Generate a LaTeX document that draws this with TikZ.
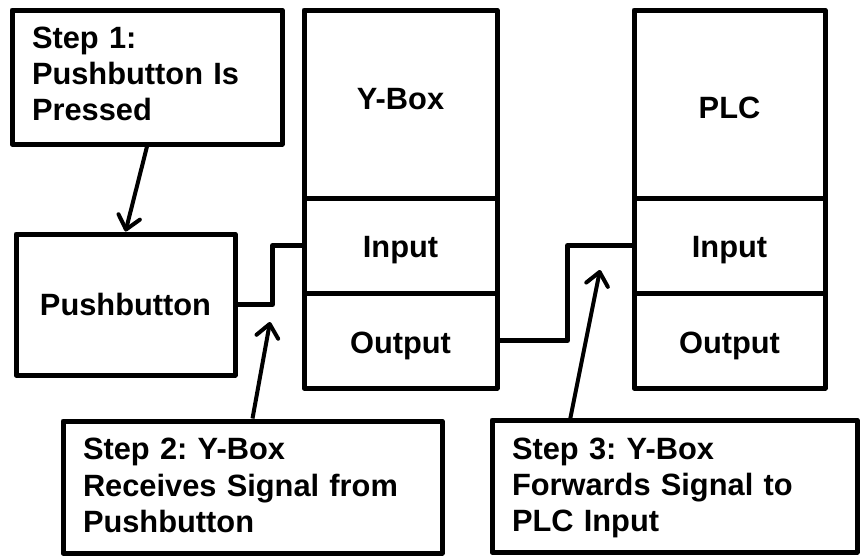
\documentclass[tikz,border=0pt]{standalone}
\usepackage{fontspec}
\setmainfont{Liberation Sans}
\usetikzlibrary{arrows.meta}
\frenchspacing
\begin{document}
\begin{tikzpicture}[x=1pt,y=-1pt,
  box/.style={draw=black,line width=5pt,line join=round,fill=white,inner sep=0pt},
  txt/.style={inner sep=0pt,font=\bfseries\fontsize{30.8}{36.3}\selectfont},
  steptxt/.style={txt,align=left,text width=#1},
  wire/.style={draw=black,line width=5pt,line join=round},
  arr/.style={draw=black,line width=4pt,-{Straight Barb[length=13pt,width=22pt,line width=4pt,round]}}]
\useasboundingbox (0,0) rectangle (860,555);
% boxes
\node[box,minimum width=270pt,minimum height=134pt] (step1) at (147,77) {};
\node[box,minimum width=219pt,minimum height=141pt] (push) at (125.5,304.5) {};
\node[box,minimum width=193pt,minimum height=188pt] (ytop) at (400.5,104) {};
\node[box,minimum width=193pt,minimum height=95pt] (yin) at (400.5,245.5) {};
\node[box,minimum width=193pt,minimum height=95pt] (yout) at (400.5,340.5) {};
\node[box,minimum width=191pt,minimum height=188pt] (ptop) at (729.5,104) {};
\node[box,minimum width=191pt,minimum height=95pt] (pin) at (729.5,245.5) {};
\node[box,minimum width=191pt,minimum height=95pt] (pout) at (729.5,340.5) {};
\node[box,minimum width=379pt,minimum height=132pt] (step2) at (252.5,487) {};
\node[box,minimum width=365pt,minimum height=132pt] (step3) at (674.5,486) {};
% texts
\node[steptxt=230pt,yshift=3pt] (step1t) at (step1) {Step 1:\\Pushbutton Is\\Pressed};
\node[txt] (pusht) at (push) {Pushbutton};
\node[txt,yshift=5pt] (ytopt) at (ytop) {Y-Box};
\node[txt,yshift=-5pt] (yint) at (yin) {Input};
\node[txt,yshift=-5pt] (youtt) at (yout) {Output};
\node[txt,yshift=-4pt] (ptopt) at (ptop) {PLC};
\node[txt,yshift=-5pt] (pint) at (pin) {Input};
\node[txt,yshift=-5pt] (poutt) at (pout) {Output};
\node[steptxt=339pt,yshift=1.5pt] (step2t) at (step2) {Step 2: Y-Box\\Receives Signal from\\Pushbutton};
\node[steptxt=325pt,yshift=-2pt] (step3t) at (step3) {Step 3: Y-Box\\Forwards Signal to\\PLC Input};
% wires
\draw[wire] (push.east) -- ++(35,0) |- (yin.west);
\draw[wire] (yout.east) -- ++(68,0) |- (pin.west);
% arrows
\coordinate (tip2) at (270,322);
\coordinate (tip3) at (600,270);
\coordinate (s3a) at (570,420);
\draw[arr] (step1.south) -- (push.north);
\draw[arr] (step2.north) -- (tip2);
\draw[arr] (s3a) -- (tip3);
\end{tikzpicture}
\end{document}
